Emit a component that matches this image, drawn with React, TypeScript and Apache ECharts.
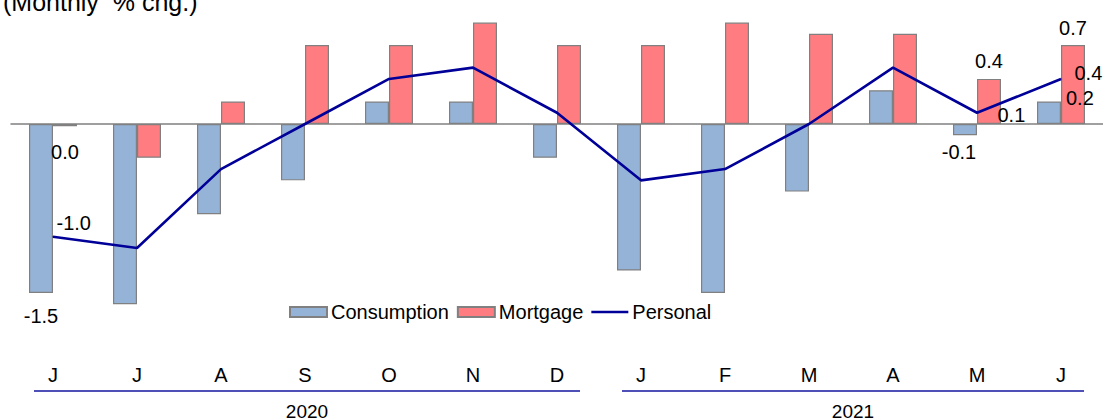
import React, { useEffect, useRef } from "react";
import * as echarts from "echarts";

const months = ["J", "J", "A", "S", "O", "N", "D", "J", "F", "M", "A", "M", "J"];
const years = ["2020", "2021"];
const yearSpans = [
  [0, 6],
  [7, 12],
];
const consumption = [-1.5, -1.6, -0.8, -0.5, 0.2, 0.2, -0.3, -1.3, -1.5, -0.6, 0.3, -0.1, 0.2];
const mortgage = [-0.02, -0.3, 0.2, 0.7, 0.7, 0.9, 0.7, 0.7, 0.9, 0.8, 0.8, 0.4, 0.7];
const personal = [-1.0, -1.1, -0.4, 0.0, 0.4, 0.5, 0.1, -0.5, -0.4, 0.0, 0.5, 0.1, 0.4];

const FONT = "Liberation Sans";

const consumptionLabels: Record<number, any> = {
  0: { position: "bottom", distance: 13 },
  11: { position: "bottom", distance: 7, offset: [-6, 0] },
  12: { position: "right", distance: 5, offset: [0, -15] },
};
const mortgageLabels: Record<number, any> = {
  0: { position: "bottom", distance: 16 },
  11: { position: "top", distance: 8 },
  12: { position: "top", distance: 7 },
};
const personalLabels: Record<number, any> = {
  0: { position: "right", distance: 3, offset: [0, -14] },
  11: { position: "right", distance: 20, offset: [0, 2] },
  12: { position: "right", distance: 13, offset: [0, -6] },
};

const fmt = (v: number) => (Math.abs(v) < 0.05 ? "0.0" : v.toFixed(1));

const withLabels = (vals: number[], labels: Record<number, any>) =>
  vals.map((v, i) =>
    labels[i]
      ? {
          value: v,
          label: {
            show: true,
            fontSize: 20,
            fontFamily: FONT,
            color: "#000",
            formatter: () => fmt(v),
            ...labels[i],
          },
        }
      : { value: v }
  );

export default function App() {
  const ref = useRef<HTMLDivElement>(null);
  useEffect(() => {
    if (!ref.current) return;
    const chart = echarts.init(ref.current, null, { renderer: "svg" });
    const option: any = {
      animation: false,
      backgroundColor: "#fff",
      title: {
        text: "(Monthly  % chg.)",
        left: -2,
        top: -16,
        padding: 5,
        textStyle: { fontSize: 25, fontWeight: "normal", fontFamily: FONT, color: "#000" },
      },
      legend: {
        left: 289,
        top: 302,
        padding: 0,
        itemWidth: 37,
        itemHeight: 10,
        itemGap: 8,
        textStyle: { fontSize: 20, fontFamily: FONT, color: "#000", padding: [0, 0, 0, -1] },
        data: [
          { name: "Consumption", icon: "rect" },
          { name: "Mortgage", icon: "rect" },
          { name: "Personal", icon: "path://M0,0H37V2.6H0Z" },
        ],
      },
      grid: { left: 11, width: 1097, top: 11.3, height: 338.1 },
      xAxis: [
        {
          type: "category",
          data: months,
          position: "top",
          axisLine: { show: true, onZero: true, lineStyle: { color: "#808080", width: 1.5 } },
          axisTick: { show: false },
          axisLabel: { show: false },
        },
        {
          type: "category",
          data: months,
          position: "bottom",
          axisLine: { show: false, onZero: false },
          axisTick: { show: false },
          axisLabel: { fontSize: 20, fontFamily: FONT, color: "#000", margin: 16 },
        },
      ],
      yAxis: {
        type: "value",
        min: -2,
        max: 1,
        show: false,
        splitLine: { show: false },
      },
      series: [
        {
          name: "Consumption",
          type: "bar",
          data: withLabels(consumption, consumptionLabels),
          barWidth: 24,
          barGap: "0%",
          itemStyle: { color: "#95B3D7", borderColor: "#808080", borderWidth: 1.2 },
        },
        {
          name: "Mortgage",
          type: "bar",
          data: withLabels(mortgage, mortgageLabels),
          barWidth: 24,
          barGap: "0%",
          itemStyle: { color: "#FF7C80", borderColor: "#808080", borderWidth: 1.2 },
        },
        {
          name: "Personal",
          type: "line",
          data: withLabels(personal, personalLabels),
          symbol: "circle",
          symbolSize: 1,
          showSymbol: true,
          lineStyle: { color: "#000099", width: 2.6 },
          itemStyle: { color: "#000099" },
          z: 5,
        },
      ],
    };
    chart.setOption(option);

    const graphics: any[] = [];
    yearSpans.forEach(([a, b], k) => {
      const x1 = (chart.convertToPixel({ xAxisIndex: 0 }, a) as number) - 19;
      const x2 = (chart.convertToPixel({ xAxisIndex: 0 }, b) as number) + 23;
      graphics.push({
        type: "line",
        shape: { x1, y1: 391, x2, y2: 391 },
        style: { stroke: "#1414a0", lineWidth: 1.6 },
      });
      graphics.push({
        type: "text",
        x: (x1 + x2) / 2,
        y: 411,
        style: {
          text: years[k],
          fontSize: 19,
          fontFamily: FONT,
          fill: "#000",
          align: "center",
          verticalAlign: "middle",
        },
      });
    });
    chart.setOption({ graphic: graphics });

    return () => chart.dispose();
  }, []);
  return (
    <div
      ref={ref}
      style={{ position: "fixed", left: 0, top: 0, width: 1103, height: 420 }}
    />
  );
}
